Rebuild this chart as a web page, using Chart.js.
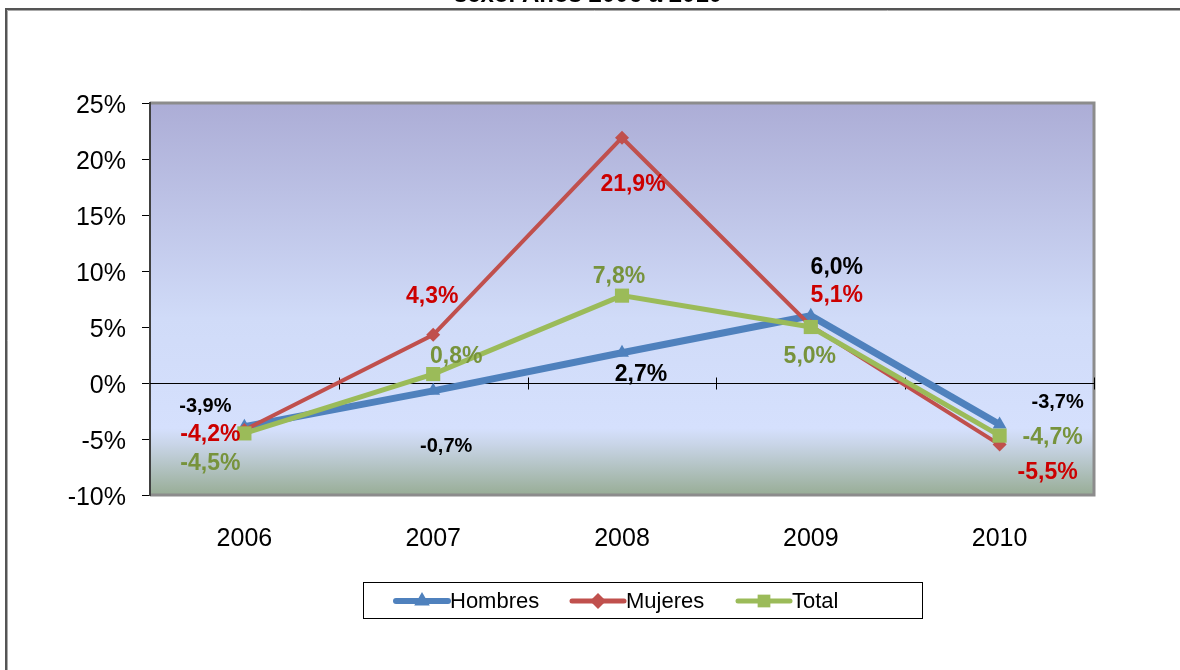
<!DOCTYPE html>
<html>
<head>
<meta charset="utf-8">
<script src="https://cdn.jsdelivr.net/npm/chart.js@4/dist/chart.umd.min.js"></script>
<style>
  body { margin: 0; background: #fff; }
  canvas { display: block; }
</style>
</head>
<body>
<canvas id="chart" width="1180" height="670"></canvas>
<script>
// data
const years = ['2006', '2007', '2008', '2009', '2010'];
const hombres = [-3.9, -0.7, 2.7, 6.0, -3.7];
const mujeres = [-4.2, 4.3, 21.9, 5.1, -5.5];
const total = [-4.5, 0.8, 7.8, 5.0, -4.7];
const yTicks = [-10, -5, 0, 5, 10, 15, 20, 25];

// label offsets from each point (pixels) and sizes
const labelOffsets = {
    hombres: [[-39, -20], [13, 56], [19, 22], [26, -48], [58, -22]],
    mujeres: [[-34, 5], [-1, -38], [11, 47], [26, -30], [48, 28]],
    total: [[-34, 30], [23, -17], [-3, -19], [-1, 30], [53, 2]]
};
const labelSizes = {
    hombres: [20, 20, 23, 23, 20],
    mujeres: [23, 23, 23, 23, 23],
    total: [23, 23, 23, 23, 23]
};

const FONT = '"Liberation Sans", Arial, sans-serif';

function fmt(v) {
    return v.toFixed(1).replace('.', ',') + '%';
}

const framePlugin = {
    id: 'frame',
    beforeDraw(chart) {
        const c = chart.ctx;
        const a = chart.chartArea;
        c.save();
        c.fillStyle = '#fff';
        c.fillRect(0, 0, chart.width, chart.height);
        // cut-off title
        c.fillStyle = '#000';
        c.font = 'bold 24px ' + FONT;
        c.textAlign = 'center';
        c.textBaseline = 'alphabetic';
        c.fillText('sexo. Años 2006 a 2010', 588, 2);
        // outer frame
        c.strokeStyle = '#555';
        c.lineWidth = 2;
        c.beginPath();
        c.moveTo(6, chart.height + 5);
        c.lineTo(6, 9);
        c.lineTo(chart.width + 5, 9);
        c.stroke();
        c.strokeStyle = '#aaa';
        c.lineWidth = 1;
        c.beginPath();
        c.moveTo(7.5, chart.height + 5);
        c.lineTo(7.5, 10.5);
        c.lineTo(chart.width + 5, 10.5);
        c.stroke();
        // plot background
        const g = c.createLinearGradient(0, a.top, 0, a.bottom);
        g.addColorStop(0, '#acadd6');
        g.addColorStop(0.55, '#d0dbf8');
        g.addColorStop(0.83, '#d5e0fd');
        g.addColorStop(0.87, '#c9d5e8');
        g.addColorStop(1, '#98ad96');
        c.fillStyle = g;
        c.fillRect(a.left, a.top, a.right - a.left, a.bottom - a.top);
        c.restore();
    },
    beforeDatasetsDraw(chart) {
        const c = chart.ctx;
        const a = chart.chartArea;
        const x = chart.scales.x;
        const y = chart.scales.y;
        c.save();
        // plot border
        c.strokeStyle = '#8c8c8c';
        c.lineWidth = 3;
        c.beginPath();
        c.moveTo(a.left, a.top);
        c.lineTo(a.right, a.top);
        c.lineTo(a.right, a.bottom);
        c.lineTo(a.left, a.bottom);
        c.stroke();
        c.strokeStyle = '#404040';
        c.lineWidth = 2;
        c.beginPath();
        c.moveTo(a.left, a.top - 1);
        c.lineTo(a.left, a.bottom + 1);
        c.stroke();
        // category tick marks on the zero line
        const y0 = Math.round(y.getPixelForValue(0)) + 0.5;
        const half = (x.getPixelForValue(1) - x.getPixelForValue(0)) / 2;
        c.strokeStyle = '#000';
        c.lineWidth = 1;
        c.beginPath();
        c.moveTo(a.left, y0);
        c.lineTo(a.right, y0);
        for (let i = 0; i < years.length; i++) {
            const px = Math.round(x.getPixelForValue(i) + half) + 0.5;
            c.moveTo(px, y0 - 6);
            c.lineTo(px, y0 + 6);
        }
        c.stroke();
        c.restore();
    },
    afterDatasetsDraw(chart) {
        const c = chart.ctx;
        const x = chart.scales.x;
        const y = chart.scales.y;
        const sets = [
            ['hombres', hombres, '#000000'],
            ['mujeres', mujeres, '#cc0000'],
            ['total', total, '#77933c']
        ];
        c.save();
        c.textAlign = 'center';
        c.textBaseline = 'middle';
        sets.forEach(([key, vals, col]) => {
            vals.forEach((v, i) => {
                const off = labelOffsets[key][i];
                c.font = 'bold ' + labelSizes[key][i] + 'px ' + FONT;
                c.fillStyle = col;
                c.fillText(fmt(v), x.getPixelForValue(i) + off[0], y.getPixelForValue(v) + off[1]);
            });
        });
        // legend
        const items = [
            ['Hombres', '#4f81bd', 'triangle', 396, 6, 9],
            ['Mujeres', '#c0504d', 'rectRot', 572, 5, 8],
            ['Total', '#9bbb59', 'rect', 738, 5, 9]
        ];
        c.fillStyle = '#fff';
        c.fillRect(363, 582, 560, 37);
        c.strokeStyle = '#000';
        c.lineWidth = 1;
        c.strokeRect(363.5, 582.5, 559, 36);
        const ly = 601;
        items.forEach(([name, col, shape, lx, lw, r]) => {
            c.strokeStyle = col;
            c.lineWidth = lw;
            c.lineCap = 'round';
            c.beginPath();
            c.moveTo(lx, ly);
            c.lineTo(lx + 52, ly);
            c.stroke();
            c.fillStyle = col;
            Chart.helpers.drawPoint(c, {pointStyle: shape, radius: r, borderWidth: 0}, lx + 26, ly);
            c.fillStyle = '#000';
            c.font = '22px ' + FONT;
            c.textAlign = 'left';
            c.fillText(name, lx + 54, ly + 1);
        });
        c.restore();
    }
};

new Chart(document.getElementById('chart'), {
    type: 'line',
    data: {
        labels: years,
        datasets: [{
            label: 'Hombres',
            data: hombres,
            borderColor: '#4f81bd',
            backgroundColor: '#4f81bd',
            borderWidth: 7,
            pointStyle: 'triangle',
            pointRadius: 8,
            pointBorderWidth: 0,
            order: 3
        }, {
            label: 'Mujeres',
            data: mujeres,
            borderColor: '#c0504d',
            backgroundColor: '#c0504d',
            borderWidth: 4,
            pointStyle: 'rectRot',
            pointRadius: 7,
            pointBorderWidth: 0,
            order: 2
        }, {
            label: 'Total',
            data: total,
            borderColor: '#9bbb59',
            backgroundColor: '#9bbb59',
            borderWidth: 5,
            pointStyle: 'rect',
            pointRadius: 10,
            pointBorderWidth: 0,
            order: 1
        }]
    },
    options: {
        responsive: false,
        animation: false,
        layout: { padding: { top: 103, right: 86, left: 0, bottom: 0 } },
        plugins: {
            legend: { display: false },
            tooltip: { enabled: false }
        },
        scales: {
            x: {
                offset: true,
                grid: { display: false, drawTicks: false },
                border: { display: false },
                ticks: {
                    color: '#000',
                    padding: 29,
                    font: { family: FONT, size: 25 }
                },
                afterFit(scale) { scale.height = 175; }
            },
            y: {
                min: -10,
                max: 25,
                afterBuildTicks(scale) { scale.ticks = yTicks.map(v => ({ value: v })); },
                grid: {
                    color: 'transparent',
                    tickColor: '#000',
                    tickLength: 8
                },
                border: { display: false },
                ticks: {
                    color: '#000',
                    padding: 16,
                    labelOffset: 3,
                    font: { family: FONT, size: 25 },
                    callback: v => v + '%'
                },
                afterFit(scale) { scale.width = 150; }
            }
        }
    },
    plugins: [framePlugin]
});
</script>
</body>
</html>
